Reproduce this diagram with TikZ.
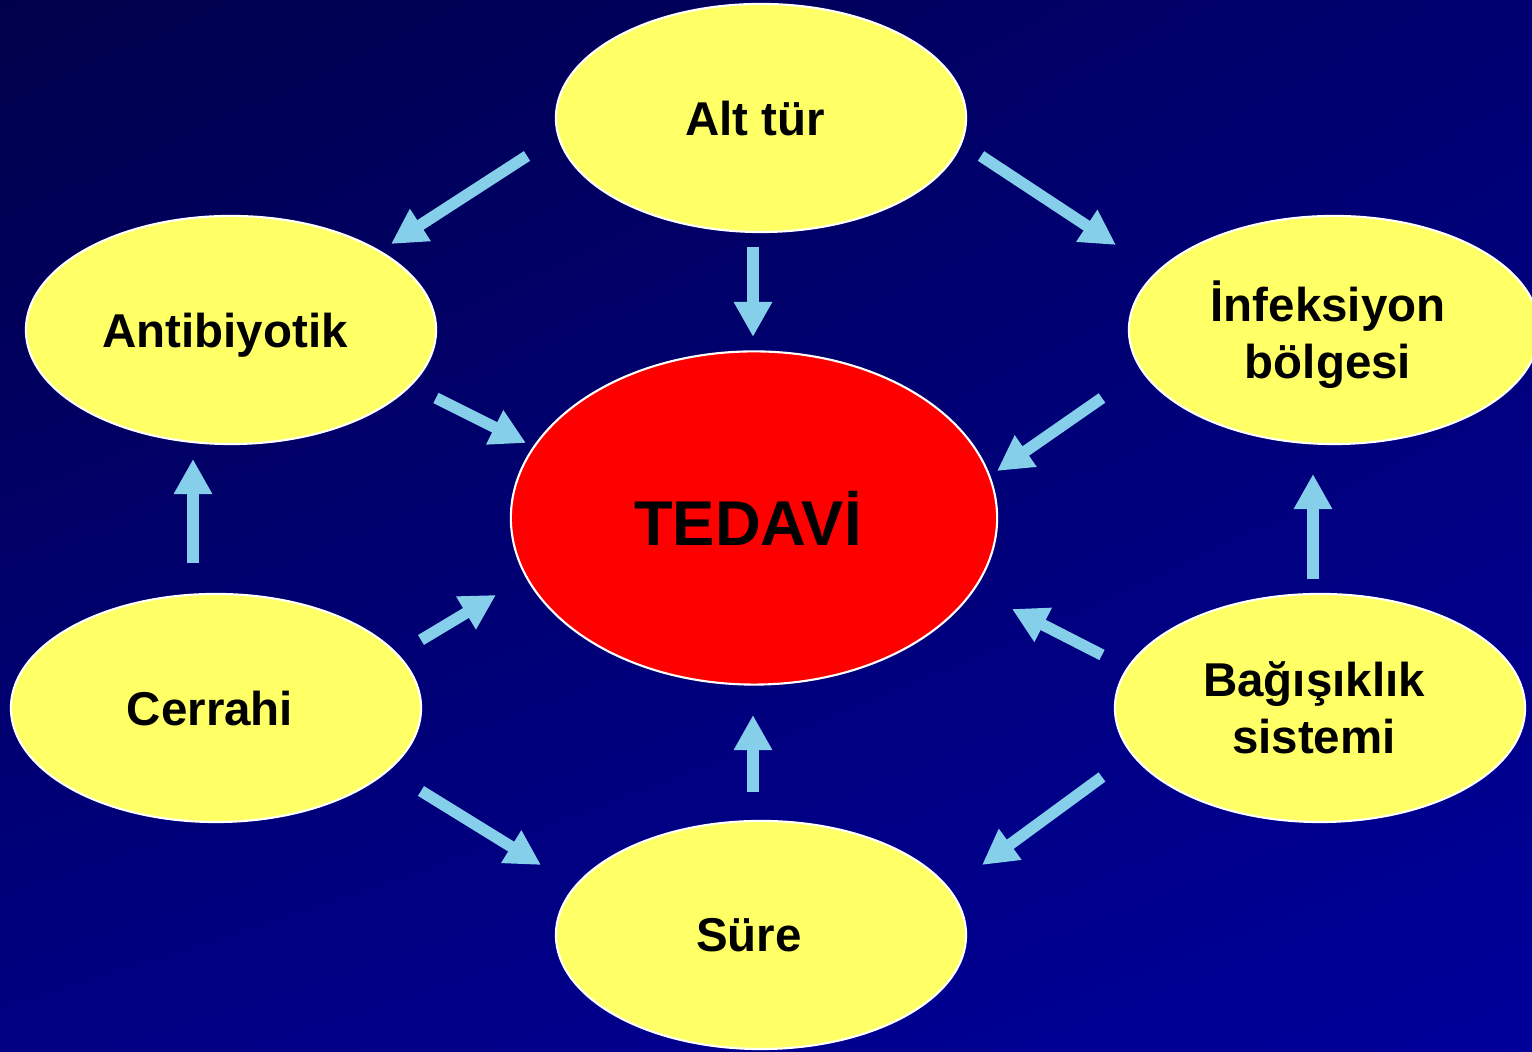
\documentclass[tikz,border=0pt]{standalone}
\usepackage{fontspec}
\setmainfont{Liberation Sans}
\usetikzlibrary{shapes.geometric,arrows.meta,calc,shadings}

\definecolor{bgtl}{HTML}{00004A}
\definecolor{bgtr}{HTML}{000070}
\definecolor{bgbl}{HTML}{000082}
\definecolor{bgbr}{HTML}{00009A}
\definecolor{ovalyellow}{HTML}{FFFF66}
\definecolor{arrowblue}{HTML}{85CFEA}

% text sits a little left of the oval centre
\newcommand{\pad}{\kern0.12cm}

\tikzset{
  oval/.style={ellipse, draw=white, line width=0.6pt, fill=ovalyellow,
               minimum width=4.1cm, minimum height=2.28cm, inner sep=0pt,
               text depth=0pt, align=center,
               font=\fontsize{13.5}{16.2}\selectfont\bfseries},
  core/.style={ellipse, draw=white, line width=0.6pt, fill=red,
               minimum width=4.86cm, minimum height=3.33cm, inner sep=0pt,
               text depth=0pt, font=\fontsize{18}{21}\selectfont\bfseries},
  arr/.style={draw=arrowblue, line width=0.115cm,
              -{Triangle[width=0.36cm,length=0.35cm]}}
}

\begin{document}
\begin{tikzpicture}[x=0.01cm, y=0.01cm]

\useasboundingbox (0,0) rectangle (1532,1052);
\shade[upper left=bgtl, upper right=bgtr, lower left=bgbl, lower right=bgbr]
      (0,0) rectangle (1532,1052);

\node[core] (tedavi) at (754,534) {TEDAVİ\pad};
\node[oval] (alt)   at (761,934) {Alt tür\pad};
\node[oval] (anti)  at (231,722) {Antibiyotik\pad};
\node[oval] (infek) at (1334,722) {İnfeksiyon\pad\\bölgesi\pad};
\node[oval] (cerr)  at (216,344) {Cerrahi\pad};
\node[oval] (bag)   at (1320,344) {Bağışıklık\pad\\sistemi\pad};
\node[oval] (sure)  at (761,117) {Süre\pad\pad};

\draw[arr] ($(alt)+(-234,-38)$) -- ($(anti)+(160,86)$);
\draw[arr] ($(alt)+(-8,-129)$) -- ($(tedavi)+(-1,181)$);
\draw[arr] ($(alt)+(220,-38)$) -- ($(infek)+(-218,85)$);
\draw[arr] ($(anti)+(205,-68)$) -- ($(tedavi)+(-228,75)$);
\draw[arr] ($(infek)+(-232,-68)$) -- ($(tedavi)+(243,47)$);
\draw[arr] ($(cerr)+(-23,145)$) -- ($(anti)+(-38,-129)$);
\draw[arr] ($(cerr)+(205,68)$) -- ($(tedavi)+(-258,-77)$);
\draw[arr] ($(bag)+(-218,53)$) -- ($(tedavi)+(258,-91)$);
\draw[arr] ($(bag)+(-7,129)$) -- ($(infek)+(-21,-144)$);
\draw[arr] ($(cerr)+(205,-83)$) -- ($(sure)+(-220,70)$);
\draw[arr] ($(sure)+(-8,143)$) -- ($(tedavi)+(-1,-197)$);
\draw[arr] ($(bag)+(-218,-69)$) -- ($(sure)+(221,70)$);

\end{tikzpicture}
\end{document}
